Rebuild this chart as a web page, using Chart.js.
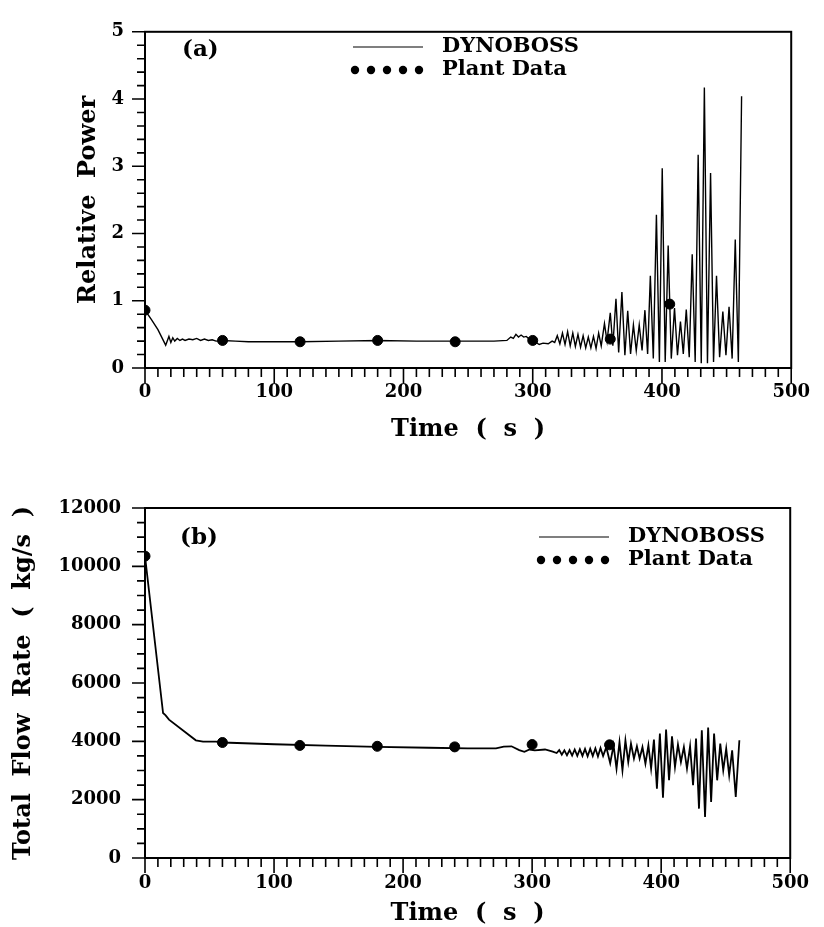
<!DOCTYPE html>
<html>
<head>
<meta charset="utf-8">
<title>DYNOBOSS vs Plant Data</title>
<script src="https://cdn.jsdelivr.net/npm/chart.js@4.4.0/dist/chart.umd.min.js"></script>
<style>
  html, body { margin: 0; padding: 0; background: #fff; overflow: hidden; }
  #wrap { position: relative; width: 824px; height: 927px; }
  canvas { position: absolute; left: 0; }
</style>
</head>
<body>
<div id="wrap">
  <canvas id="powerChart" width="824" height="460" style="top:0px"></canvas>
  <canvas id="flowChart" width="824" height="480" style="top:460px"></canvas>
</div>
<script>
// (a) relative power - DYNOBOSS calculation
const powerTime = [0, 5, 10, 16, 18.5, 20, 21.5, 23, 25, 27, 29, 31, 34, 37, 40, 43, 46, 49, 52, 55,
  60, 70, 80, 100, 120, 150, 180, 210, 240, 270, 280, 283, 285, 287, 289, 291, 293, 295, 298, 301,
  305, 308, 312, 315, 317, 319, 321, 323, 325, 327, 329, 331, 333, 335, 337, 339, 341, 343, 345, 347,
  349, 351, 353, 355.5, 357.5, 360, 362, 364.4, 366.5, 369, 371.3, 373.5, 375.7, 377.9, 380.1, 382.4,
  384.6, 386.8, 388.9, 391, 393.3, 395.7, 398, 400.2, 402.5, 404.8, 407.2, 409.7, 412, 414.3, 416.5,
  418.8, 421.1, 423.4, 425.7, 428, 430.4, 432.8, 435.2, 437.6, 439.9, 442.2, 444.6, 447.1, 449.5,
  451.9, 454.3, 456.7, 459.1, 461.6];
const powerValue = [0.86, 0.72, 0.57, 0.34, 0.47, 0.38, 0.45, 0.40, 0.44, 0.41, 0.43, 0.41, 0.43, 0.42, 0.44, 0.41, 0.43, 0.41, 0.42, 0.40,
  0.41, 0.40, 0.39, 0.39, 0.39, 0.40, 0.41, 0.40, 0.40, 0.40, 0.41, 0.46, 0.44, 0.50, 0.46, 0.49, 0.46, 0.47, 0.42, 0.40,
  0.35, 0.37, 0.36, 0.40, 0.38, 0.48, 0.36, 0.52, 0.35, 0.54, 0.33, 0.52, 0.32, 0.50, 0.31, 0.48, 0.30, 0.46, 0.30, 0.47,
  0.29, 0.52, 0.33, 0.66, 0.40, 0.82, 0.33, 1.03, 0.23, 1.13, 0.19, 0.85, 0.21, 0.64, 0.26, 0.64,
  0.26, 0.86, 0.21, 1.37, 0.14, 2.28, 0.09, 2.97, 0.09, 1.82, 0.14, 0.89, 0.19, 0.69, 0.21,
  0.87, 0.16, 1.69, 0.09, 3.17, 0.07, 4.17, 0.07, 2.90, 0.09, 1.37, 0.16, 0.84, 0.19,
  0.91, 0.14, 1.91, 0.09, 4.04];
const powerPlantTime = [0, 60, 120, 180, 240, 300, 360, 406];
const powerPlantValue = [0.86, 0.41, 0.39, 0.41, 0.39, 0.41, 0.43, 0.95];

// (b) total flow rate
const flowTime = [0, 14, 16, 18.6, 39.4, 45, 55, 60, 100, 140, 180, 220, 250, 272, 278, 284, 290, 294, 298, 302,
  310, 316, 319, 321, 323, 325, 327, 329, 331, 333, 335, 337, 339, 341, 343, 345, 347, 349, 351, 353,
  355, 357.5, 360.5, 363.1, 365.4, 367.7, 370, 372.3, 374.5, 376.6, 378.9, 381.2, 383.3, 385.5, 387.8,
  390.1, 392.2, 394.4, 396.7, 399, 401.4, 403.8, 406.1, 408.4, 410.7, 413, 415.3, 417.6, 420, 422.4,
  424.7, 427, 429.3, 431.5, 434, 436.4, 438.7, 441, 443.4, 445.8, 448.1, 450.4, 452.7, 455, 457.8, 460.6];
const flowValue = [10350, 4970, 4890, 4745, 4035, 3990, 3990, 3960, 3900, 3850, 3810, 3780, 3760, 3760, 3820, 3830, 3700, 3640, 3720, 3690,
  3720, 3650, 3600, 3700, 3540, 3690, 3520, 3700, 3510, 3720, 3500, 3730, 3500, 3740, 3490, 3750, 3500, 3760, 3480, 3770,
  3500, 3800, 3250, 3864, 3065, 3977, 3007, 4035, 3291, 3922, 3408, 3830, 3408, 3806, 3236,
  3864, 3065, 4059, 2379, 4265, 2071, 4402, 2664, 4173, 3120, 3888, 3291, 3806, 3065, 3830,
  2493, 4094, 1692, 4378, 1406, 4471, 1920, 4265, 2664, 3922, 3007, 3751, 2835, 3693, 2091, 4035];
const flowPlantTime = [0, 60, 120, 180, 240, 300, 360];
const flowPlantValue = [10350, 3960, 3860, 3830, 3810, 3890, 3880];

const seriesNames = ["DYNOBOSS", "Plant Data"];

const serif = "'DejaVu Serif', 'Liberation Serif', serif";
const tickFont = { family: serif, size: 18, weight: "bold" };
const titleFont = { family: serif, size: 24, weight: "bold" };

function pts(xs, ys) {
  return xs.map(function (x, i) { return { x: x, y: ys[i] }; });
}

// box, minor/major tick marks, inner legend and panel label
const framePlugin = {
  id: "frame",
  afterDraw(chart, args, opts) {
    const ctx = chart.ctx;
    const a = chart.chartArea;
    const xs = chart.scales.x, ys = chart.scales.y;
    ctx.save();
    ctx.strokeStyle = "#000";
    ctx.lineWidth = 2;
    ctx.strokeRect(a.left, a.top, a.right - a.left, a.bottom - a.top);

    ctx.lineWidth = 1.6;
    ctx.beginPath();
    const nx = Math.round((xs.max - xs.min) / opts.xMinor);
    for (let i = 0; i <= nx; i++) {
      const px = xs.getPixelForValue(xs.min + i * opts.xMinor);
      const len = i % opts.xEvery === 0 ? 15 : 9;
      ctx.moveTo(px, a.bottom);
      ctx.lineTo(px, a.bottom + len);
    }
    const ny = Math.round((ys.max - ys.min) / opts.yMinor);
    for (let j = 0; j <= ny; j++) {
      const py = ys.getPixelForValue(ys.min + j * opts.yMinor);
      const len = j % opts.yEvery === 0 ? 13 : 8;
      ctx.moveTo(a.left, py);
      ctx.lineTo(a.left - len, py);
    }
    ctx.stroke();

    // legend
    const lg = opts.legend;
    ctx.fillStyle = "#000";
    ctx.lineWidth = 1.2;
    ctx.beginPath();
    ctx.moveTo(lg.x, lg.y);
    ctx.lineTo(lg.x + 70, lg.y);
    ctx.stroke();
    for (let k = 0; k < 5; k++) {
      ctx.beginPath();
      ctx.arc(lg.x + 2 + k * 16, lg.y + 23, 4.2, 0, Math.PI * 2);
      ctx.fill();
    }
    ctx.font = "bold 21px " + serif;
    ctx.textBaseline = "middle";
    ctx.textAlign = "left";
    ctx.fillText(seriesNames[0], lg.x + 89, lg.y);
    ctx.fillText(seriesNames[1], lg.x + 89, lg.y + 23);

    ctx.font = "bold 23px " + serif;
    ctx.fillText(opts.label, opts.labelX, opts.labelY);
    ctx.restore();
  }
};

function makeChart(id, lineData, plantData, yMin, yMax, yStep, yTitle, cfg) {
  return new Chart(document.getElementById(id), {
    type: "line",
    data: {
      datasets: [
        {
          label: seriesNames[0],
          data: lineData,
          borderColor: "#000",
          borderWidth: cfg.lineWidth,
          pointRadius: 0,
          tension: 0,
          fill: false
        },
        {
          label: seriesNames[1],
          data: plantData,
          showLine: false,
          pointRadius: 5,
          pointBackgroundColor: "#000",
          pointBorderColor: "#000"
        }
      ]
    },
    options: {
      responsive: false,
      animation: false,
      devicePixelRatio: 1,
      layout: { padding: { top: cfg.padTop, right: 24, left: 0, bottom: 0 } },
      plugins: {
        legend: { display: false },
        tooltip: { enabled: false },
        frame: cfg.frame
      },
      scales: {
        x: {
          type: "linear",
          min: 0,
          max: 500,
          grid: { display: false, drawTicks: false },
          border: { display: false },
          ticks: { stepSize: 100, padding: cfg.xPad, color: "#000", font: tickFont, maxRotation: 0,
            callback: function (v) { return String(v); } },
          title: { display: true, text: "Time  (  s  )", color: "#000", font: titleFont, padding: { top: 0, bottom: cfg.xTitlePad } },
          afterFit(scale) { scale.height = cfg.xHeight; }
        },
        y: {
          min: yMin,
          max: yMax,
          grid: { display: false, drawTicks: false },
          border: { display: false },
          ticks: { stepSize: yStep, padding: cfg.yPad, color: "#000", font: tickFont,
            callback: function (v) { return String(v); } },
          title: { display: true, text: yTitle, color: "#000", font: titleFont, padding: { top: cfg.yTitlePad, bottom: 0 } },
          afterFit(scale) { scale.width = 145; }
        }
      }
    },
    plugins: [framePlugin]
  });
}

makeChart("powerChart", pts(powerTime, powerValue), pts(powerPlantTime, powerPlantValue),
  0, 5, 1, "Relative  Power", {
    padTop: 19, xHeight: 92, xPad: 14, xTitlePad: 16, yPad: 21, yTitlePad: 74, lineWidth: 1.4,
    frame: { xMinor: 10, xEvery: 10, yMinor: 0.2, yEvery: 5,
      legend: { x: 353, y: 47 }, label: "(a)", labelX: 182, labelY: 50 }
  });

makeChart("flowChart", pts(flowTime, flowValue), pts(flowPlantTime, flowPlantValue),
  0, 12000, 2000, "Total  Flow  Rate  (  kg/s  )", {
    padTop: 48, xHeight: 82, xPad: 15, xTitlePad: 12, yPad: 24, yTitlePad: 9, lineWidth: 1.8,
    frame: { xMinor: 10, xEvery: 10, yMinor: 500, yEvery: 4,
      legend: { x: 539, y: 77 }, label: "(b)", labelX: 180, labelY: 78 }
  });
</script>
</body>
</html>
